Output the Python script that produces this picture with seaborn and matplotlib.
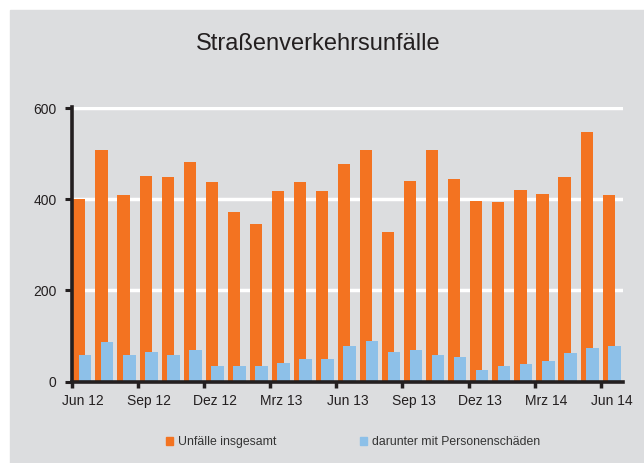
import numpy as np
import matplotlib
matplotlib.use("Agg")
import matplotlib.pyplot as plt
from matplotlib.patches import Rectangle, Patch
import seaborn as sns

# Monthly values, Jun 2012 - Jun 2014
MONTHS = ["Jun 12", "Jul 12", "Aug 12", "Sep 12", "Okt 12", "Nov 12", "Dez 12",
          "Jan 13", "Feb 13", "Mrz 13", "Apr 13", "Mai 13", "Jun 13", "Jul 13",
          "Aug 13", "Sep 13", "Okt 13", "Nov 13", "Dez 13", "Jan 14", "Feb 14",
          "Mrz 14", "Apr 14", "Mai 14", "Jun 14"]
UNFAELLE = [401, 508, 409, 452, 449, 481, 437, 373, 346, 418, 437, 418, 477,
            508, 329, 441, 508, 444, 397, 393, 420, 412, 449, 548, 409]
PERSONEN = [58, 86, 58, 66, 58, 70, 34, 34, 34, 42, 50, 50, 78,
            90, 66, 70, 58, 54, 26, 34, 38, 46, 62, 74, 78]
TICK_EVERY = 3

BG = "#dcdddf"
ORANGE = "#f37321"
BLUE = "#8dc0e8"
TEXT = "#231f20"

sns.set_theme(style="white")
plt.rcParams["font.family"] = ["Liberation Sans", "DejaVu Sans"]

fig = plt.figure(figsize=(6.44, 4.63), dpi=100, facecolor="white")
fig.patches.append(Rectangle((10 / 644, 0), 634 / 644, 453 / 463,
                             transform=fig.transFigure, color=BG, zorder=-1))

ax = fig.add_axes([71.7 / 644, 1 - 381.7 / 463, 551.3 / 644, 275 / 463])
ax.set_facecolor(BG)

idx = np.arange(len(MONTHS))
sns.barplot(x=idx - 0.15, y=UNFAELLE, native_scale=True, orient="x", width=0.55,
            color=ORANGE, saturation=1, linewidth=0, errorbar=None, ax=ax)
sns.barplot(x=idx + 0.11, y=PERSONEN, native_scale=True, orient="x", width=0.57,
            color=BLUE, saturation=1, linewidth=0, errorbar=None, ax=ax)

ax.set_xlim(-0.5, len(MONTHS) - 0.5)
ax.set_ylim(0, 603)

# labels at category centres, tick marks at the category boundaries
centres = idx[::TICK_EVERY]
ax.set_xticks(centres, [MONTHS[i] for i in centres])
ax.set_xticks(centres - 0.5, minor=True)
ax.tick_params(axis="x", which="major", length=0, pad=9, labelsize=10, labelcolor=TEXT)
ax.tick_params(axis="x", which="minor", bottom=True, length=4, width=2.5, color=TEXT)
ax.set_yticks([0, 200, 400, 600])
ax.tick_params(axis="y", left=True, length=5, width=2.2, color=TEXT, pad=6,
               labelsize=10, labelcolor=TEXT)
ax.set_xlabel("")
ax.set_ylabel("")

ax.yaxis.grid(True, color="white", linewidth=2.5)
ax.set_axisbelow(True)
sns.despine(ax=ax)
for side in ("left", "bottom"):
    ax.spines[side].set_color(TEXT)
    ax.spines[side].set_linewidth(2.6)

fig.text(318 / 644, 1 - 50 / 463, "Straßenverkehrsunfälle", ha="center",
         va="baseline", fontsize=17, color=TEXT)

handles = [Patch(color=ORANGE), Patch(color=BLUE)]
fig.legend(handles, ["Unfälle insgesamt", "darunter mit Personenschäden"],
           loc="center left", bbox_to_anchor=(166 / 644, 1 - 442 / 463), ncol=2,
           frameon=False, fontsize=8.8, handlelength=0.6, handleheight=0.6,
           handletextpad=0.4, columnspacing=6.8, borderpad=0, borderaxespad=0,
           labelcolor="#333333")

fig.savefig("out.png", dpi=100, facecolor="white")
